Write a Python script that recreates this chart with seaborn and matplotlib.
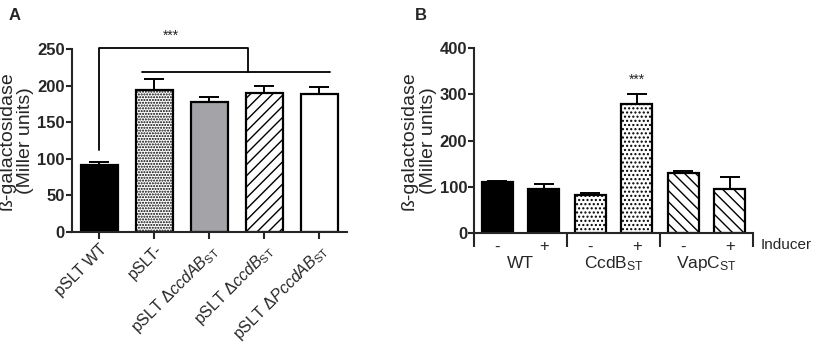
import matplotlib
matplotlib.use("Agg")
import matplotlib.pyplot as plt
import matplotlib.transforms as mtransforms
import seaborn as sns
import pandas as pd

# data panel A
strains_a = ["pSLT WT", "pSLT-", "pSLT ΔccdAB", "pSLT ΔccdB", "pSLT ΔPccdAB"]
labels_a = ["pSLT WT", "pSLT-",
            r"pSLT $\Delta\mathit{ccdAB}_{\mathrm{ST}}$",
            r"pSLT $\Delta\mathit{ccdB}_{\mathrm{ST}}$",
            r"pSLT $\Delta\mathit{PccdAB}_{\mathrm{ST}}$"]
mean_a = [92, 194, 177, 190, 189]
err_a = [4, 15, 7, 9, 9]

# data panel B
conds_b = ["WT -", "WT +", "CcdB -", "CcdB +", "VapC -", "VapC +"]
inducer_b = ["-", "+", "-", "+", "-", "+"]
groups_b = ["WT", r"CcdB$_{\mathrm{ST}}$", r"VapC$_{\mathrm{ST}}$"]
mean_b = [110, 95, 82, 279, 129, 96]
err_b = [3, 12, 4, 22, 6, 25]

sns.set_style("ticks")
plt.rcParams["font.family"] = ["Liberation Sans", "DejaVu Sans"]
plt.rcParams["mathtext.fontset"] = "custom"
plt.rcParams["mathtext.rm"] = "Liberation Sans"
plt.rcParams["mathtext.it"] = "Liberation Sans:italic"
plt.rcParams["hatch.linewidth"] = 1.0

fig = plt.figure(figsize=(8.16, 3.43), dpi=100)
ax_a = fig.add_axes([0.088, 0.3236, 0.337, 0.5334])
ax_b = fig.add_axes([0.581, 0.3207, 0.342, 0.5393])

df_a = pd.DataFrame({"strain": strains_a, "value": mean_a})
df_b = pd.DataFrame({"cond": conds_b, "value": mean_b})

sns.barplot(data=df_a, x="strain", y="value", ax=ax_a, width=0.67,
            errorbar=None, edgecolor="black", linewidth=1.6)
sns.barplot(data=df_b, x="cond", y="value", ax=ax_b, width=0.67,
            errorbar=None, edgecolor="black", linewidth=1.6)

fills_a = ["black", "white", "#a4a4a8", "white", "white"]
hatch_a = [None, "......", None, "///", None]
for p, c, h in zip(ax_a.patches, fills_a, hatch_a):
    p.set_facecolor(c)
    if h:
        p.set_hatch(h)

fills_b = ["black", "black", "white", "white", "white", "white"]
hatch_b = [None, None, "....", "....", "\\\\\\", "\\\\\\"]
for p, c, h in zip(ax_b.patches, fills_b, hatch_b):
    p.set_facecolor(c)
    if h:
        p.set_hatch(h)

for ax, m, e in [(ax_a, mean_a, err_a), (ax_b, mean_b, err_b)]:
    ax.errorbar(range(len(m)), m, yerr=[[0] * len(m), e], fmt="none",
                ecolor="black", elinewidth=1.4, capsize=7, capthick=1.4, zorder=1)
    for sp in ["left", "bottom"]:
        ax.spines[sp].set_linewidth(1.5)
    sns.despine(ax=ax)
    ax.set_xlabel("")
    ax.tick_params(axis="y", length=4, width=1.5, labelsize=12, pad=1)
    for t in ax.get_yticklabels():
        t.set_fontweight("bold")

# panel A axes
ax_a.set_xlim(-0.5, 4.5)
ax_a.set_ylim(0, 250)
ax_a.set_yticks([0, 50, 100, 150, 200, 250])
ax_a.set_xticks(range(len(labels_a)))
ax_a.set_xticklabels(labels_a, rotation=45, ha="right", rotation_mode="anchor",
                     fontsize=11.5)
ax_a.tick_params(axis="x", length=5, width=1.5, pad=2)
ax_a.set_ylabel("ß-galactosidase\n(Miller units)", fontsize=14, labelpad=2,
                linespacing=1.15)

# significance bracket
kw = dict(color="black", lw=1.3, clip_on=False)
ax_a.plot([0, 0, 2.71, 2.71], [112, 251, 251, 218], **kw)
ax_a.plot([0.78, 4.2], [218, 218], **kw)
ax_a.text(1.31, 259, "***", ha="center", va="bottom", fontsize=10)

# panel B axes
ax_b.set_xlim(-0.5, 5.5)
ax_b.set_ylim(0, 400)
ax_b.set_yticks([0, 100, 200, 300, 400])
ax_b.set_xticks([-0.5, 1.5, 3.5, 5.5])
ax_b.set_xticklabels([])
ax_b.tick_params(axis="x", length=10, width=1.5)
ax_b.set_ylabel("ß-galactosidase\n(Miller units)", fontsize=14, labelpad=2,
                linespacing=1.15)
ax_b.text(3, 316, "***", ha="center", va="bottom", fontsize=10)

trans = mtransforms.blended_transform_factory(ax_b.transData, ax_b.transAxes)
for i, s in enumerate(inducer_b):
    ax_b.text(i, -0.075, s, transform=trans, ha="center", va="center", fontsize=12)
for g, name in enumerate(groups_b):
    ax_b.text(2 * g + 0.5, -0.165, name, transform=trans, ha="center",
              va="center", fontsize=12.5)
ax_b.text(1.025, -0.065, "Inducer", transform=ax_b.transAxes, ha="left",
          va="center", fontsize=11)

fig.text(0.010, 0.955, "A", fontsize=12, fontweight="bold", va="center")
fig.text(0.508, 0.955, "B", fontsize=12, fontweight="bold", va="center")

fig.savefig("out.png", dpi=100)
